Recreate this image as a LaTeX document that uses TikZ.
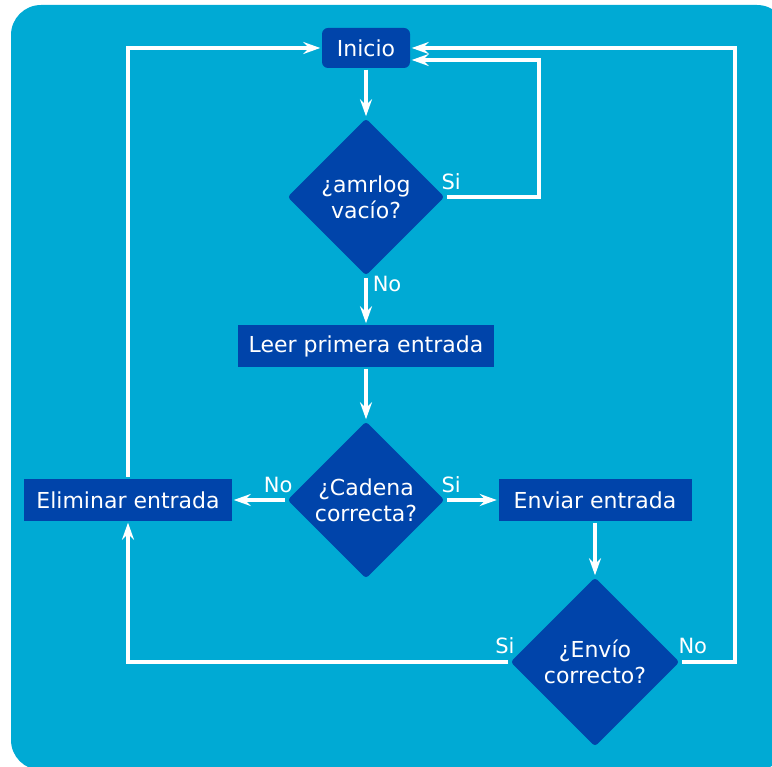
\documentclass[tikz,border=0pt]{standalone}
\usepackage{fontspec}
\setmainfont{DejaVu Sans}
\usetikzlibrary{arrows.meta,shapes.geometric}
\definecolor{fondo}{HTML}{00AAD4}
\definecolor{azul}{HTML}{0044AA}

\begin{document}
\begin{tikzpicture}[->,>={Stealth[length=17pt,width=12pt,inset=6pt]}
	,x=1pt,y=-1pt
	,line width=3.5pt
	,white
	,font=\fontsize{22}{26}\selectfont]
  \tikzstyle{caja}=[rectangle,fill=azul,inner sep=0pt,minimum height=42pt]
  \tikzstyle{decision}=[diamond,fill=azul,inner sep=0pt,align=center,
    rounded corners=3pt,minimum width=158pt,minimum height=158pt]
  \tikzstyle{etiqueta}=[inner sep=0pt,font=\fontsize{21}{24}\selectfont]

  % fondo
  \useasboundingbox (0,0) rectangle (772,767);
  \clip (0,0) rectangle (772,767);
  \fill[-,fondo,rounded corners=30pt] (11,5) rectangle (787,770);

  % nodos
  \node[caja,rounded corners=6pt,minimum width=88pt,minimum height=40pt] (inicio) at (366,48) {Inicio};
  \node[decision] (vacio) at (366,197) {¿amrlog\\vacío?};
  \node[caja,minimum width=256pt] (leer) at (366,346) {Leer primera entrada};
  \node[decision] (cadena) at (366,500) {¿Cadena\\correcta?};
  \node[caja,minimum width=208pt] (eliminar) at (128,500) {Eliminar entrada};
  \node[caja,minimum width=193pt] (enviar) at (595,500) {Enviar entrada};
  \node[decision,minimum width=170pt,minimum height=170pt] (envio) at (595,662) {¿Envío\\correcto?};
  \coordinate (vueltaA) at (539,60);
  \coordinate (vueltaB) at (735,48);

  % flujo principal
  \path (inicio) edge (vacio);
  \path (vacio)  edge node[etiqueta,pos=0,anchor=base west,xshift=5pt,yshift=-14pt] {No} (leer);
  \path (leer)   edge (cadena);
  \path (cadena) edge node[etiqueta,pos=0,anchor=base east,xshift=9pt,yshift=7pt] {No} (eliminar);
  \path (cadena) edge node[etiqueta,pos=0,anchor=base west,xshift=-7pt,yshift=7pt] {Si} (enviar);
  \path (enviar) edge (envio);
  % vueltas
  \draw (vacio.east) node[etiqueta,anchor=base west,xshift=-7pt,yshift=7pt] {Si}
    -| (vueltaA) -- (inicio.east |- vueltaA);
  \draw (envio.east) node[etiqueta,anchor=base west,xshift=-5pt,yshift=9pt] {No}
    -| (vueltaB) -- (inicio.east);
  \draw (envio.west) node[etiqueta,anchor=base east,xshift=8pt,yshift=9pt] {Si}
    -| (eliminar.south);
  \draw (eliminar.north) |- (inicio.west);
\end{tikzpicture}
\end{document}
